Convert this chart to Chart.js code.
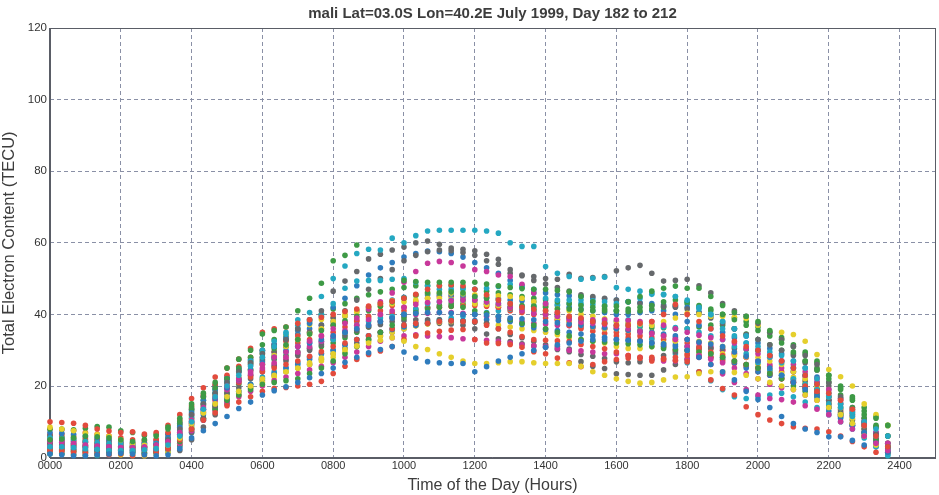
<!DOCTYPE html>
<html>
<head>
<meta charset="utf-8">
<title>TEC mali July 1999</title>
<script src="https://cdn.jsdelivr.net/npm/chart.js@4.4.0/dist/chart.umd.min.js"></script>
<style>
  html, body { margin: 0; padding: 0; background: #fff; }
  #wrap { width: 939px; height: 495px; }
</style>
</head>
<body>
<div id="wrap"><canvas id="tec"></canvas></div>
<script>
// TEC samples every 20 minutes from 0000 to 2340, one array per day
const stepMinutes = 20;
const xTickHours = [0, 2, 4, 6, 8, 10, 12, 14, 16, 18, 20, 22, 24];
const yTickValues = [0, 20, 40, 60, 80, 100, 120];
const titleText = 'mali Lat=03.0S Lon=40.2E July 1999, Day 182 to 212';

const blueA = [1, 0.8, 0.5, 0.5, 0.8, 1, 1.2, 1, 0.8, 0.5, 0.8, 2.5, 5.5, 7.5, 9.5, 11.5, 13.7, 15.5,
  17.5, 18.7, 19.8, 21, 22.3, 23.5, 25, 26.6, 28, 29.3, 30.2, 31, 29.5, 27.8, 26.8, 26.5, 26.3, 26.3,
  24, 25.4, 27, 28, 29, 30, 30.8, 31.5, 32, 32.5, 33, 33, 33, 32.8, 32.5, 32, 31.5, 31,
  30, 28, 26, 24, 21.7, 18.5, 16.2, 14, 11.5, 9.5, 8, 7, 5.8, 5.8, 4.8, 3.5, null, null];
const greenA = [5, 5.2, 5.5, 6, 5.8, 5.5, 5, 4.5, 5, 6, 8.5, 11, 15, 18, 21, 25, 27.5, 30,
  34.5, 35.5, 36.5, 41, 44.5, 48.7, 55, 56.5, 59.4, null, null, null, 49.5, 49.2, 49, 49, 49, 49,
  49, 48.5, 48, 47.5, 47.2, 47, 47, 46.7, 46.3, 45, 43.5, 42.3, 42.3, 43.5, 45, 46.5, 47.3, 47.9,
  47.3, 47.3, 45, 42.5, 40.5, 39.5, 38, 35.5, 32, 29.5, 27, 24.5, 22, 19, 16.5, 13, 11, 9];
const redA = [10, 9.8, 9.6, 9, 8, 7.4, 7, 7.2, 6.6, 7, 9, 12, 16.5, 19.5, 22.5, 25, 27.5, 30.5,
  35, 36, 36.5, 37.5, 38.5, 39.2, 40, 40.8, 41.5, 42.3, 43, 43.7, 44.5, 45.6, 47, 48, 48.3, 48,
  47, 45.5, 44, 43, 42, 41.5, 41, 40.5, 39.5, 39, 38, 37.5, 37, 37, 37.5, 38, 40, 42.8,
  40, 38, 36, 34, 32.5, 31, 30, 28.5, 27, 25, 23, 20.5, 18, 16, 13.5, 9, 6, 3];
const cyanA = [3, 3, 2.8, 2.5, 2.3, 2, 2, 2, 2.2, 2.5, 3.5, 6, 10, 13.5, 17, 20, 23, 25.5,
  28, 31, 34.5, 38.5, 40.5, 45, 50, 53.5, 57, 58.2, 58, 61.3, 60, 62, 63.3, 63.5, 63.5, 63.5,
  63.5, 63.3, 62.7, 60, 59, 59, 53.4, 51.5, 50.6, 49.8, 50.1, 50.4, 47.5, 47, 46.5, 46, 45.5, 45,
  44, 42, 40, 38, 36, 34, 31, 29.5, 28.5, 27, 25, 22, 17, 15, 12.5, 10, 8, 6];
const magentaA = [4.5, 4.3, 4, 3.5, 3.2, 3, 2.8, 2.8, 3, 3.5, 4.5, 7, 10.5, 14, 17, 20, 22, 24,
  26, 28, 29.5, 31, 32.5, 34, 36, 37.5, 39, 41.5, 43.5, 46, 49, 52, 54.3, 54.8, 54.5, 53.5,
  52.5, 52, 51, 50.6, 48.4, 46, 43, 40.5, 38.5, 37.8, 37.5, 37.2, 36.6, 36, 35.3, 34.7, 34, 33,
  31, 28.5, 26, 23.4, 21, 19, 17.5, 16.5, 16.2, 15.5, 14.5, 13.5, 12, 10, 8, 6, 4, 2];
const yellowA = [8.5, 8, 7.5, 6.8, 6.5, 6, 5, 4, 3.5, 3, 3.5, 5.5, 9.5, 12.5, 15, 17, 18.5, 20,
  22, 23, 24, 25, 26.5, 27.8, 29, 30.2, 31.2, 32, 32.8, 33.5, 32.5, 31, 30.2, 29, 28, 27,
  26.3, 26.3, 26.5, 26.8, 26.8, 26.5, 26.3, 26.3, 26.3, 25.5, 24, 23, 22, 21.3, 20.8, 21, 21.7, 22.5,
  22.6, 23.5, 24, 24, 23.8, 23, 22, 21, 20, 19, 17.5, 16, 14, 12, 9.5, 6, 3.5, null];
const grayA = [4, 3.8, 3.5, 3.2, 3, 2.8, 2.5, 2.5, 3, 3.5, 5, 8, 12, 15, 18, 21, 24, 26.5,
  29, 31, 33, 36, 38.5, 41, 46.5, 49.3, 52, 55.5, 56.8, 58, 58.8, 60, 60.5, 59.6, 58.5, 58.2,
  57.8, 56.8, 55.4, 51.5, 50.8, 50.6, 50, 49.8, 51.2, 50.1, 50.3, 50.6, 52.2, 53, 53.7, 51.5, 49.3, 49.5,
  49.8, 48, 46, 43, 41, 39.5, 37.5, 35, 33, 31, 28.5, 26, 21, 17, 13.5, 10, 6.5, 3];

const blueB = [4.5, 4.3, 4, 3.5, 3.2, 3, 2.8, 2.8, 2.8, 3, 4, 6.5, 10, 13.5, 16.5, 19.5, 22, 24.5,
  26.5, 28, 29.5, 31, 32, 33, 34, 35, 36, 37, 38, 39, 40, 40.3, 40.5, 40.5, 40.3, 40,
  40, 39.8, 39.5, 39, 38.8, 38.5, 38, 37.7, 37.3, 37, 36.6, 36.3, 36, 35.6, 35.3, 35, 34.5, 34,
  33, 32.3, 31.7, 31, 29.5, 28.3, 27, 25, 23, 21, 19, 17, 13, 11, 9, 7, 4, 1.5];
const greenB = [8, 8, 7.8, 8.2, 8.7, 8.5, 7.5, 7, 6.2, 6.5, 8, 10, 14, 17, 19.5, 22, 24.5, 26.5,
  29, 30.5, 31.5, 33, 34.5, 35.5, 37, 38.2, 39.5, 41, 42.3, 43.5, 44.5, 45.5, 46, 46, 46.3, 46,
  45, 44.5, 44, 43, 42.5, 42.3, 42, 41.5, 41.5, 41.2, 41, 41, 41, 41.5, 42, 42.5, 43.5, 44,
  43.5, 42.5, 41.5, 40, 38.5, 37, 35.5, 34, 33, 31, 29, 26.5, 23, 19.5, 16, 12, 9, 6];
const redB = [2, 1.8, 1.5, 1.2, 1, 0.8, 1, 0.6, 0.8, 1.5, 2.5, 5, 8, 10.5, 12.5, 14.5, 15.5, 17,
  18.5, 19.3, 19.6, 20, 20.5, 21.3, 23.5, 25.5, 27.4, 28.8, 29.8, 31, 33, 34, 34.8, 35.3, 35.6, 35.8,
  33, 32, 31.9, 31.6, 30.8, 29.6, 29, 27.8, 26.5, 25.4, 26, 26.8, 27.4, 27.8, 28, 28, 27.7, 27.2,
  26.8, 24, 21.7, 19.3, 17.5, 14.2, 12, 10.5, 9.5, 8.6, 8.2, 8, 7.2, 6, 4.5, 3, 1.5, null];
const cyanB = [5.5, 5.3, 5, 4.5, 4.2, 4, 3.8, 3.6, 3.5, 3.8, 5, 7.5, 11.5, 15, 18, 21, 24, 27,
  30, 32.5, 35, 37, 38.5, 40, 43, 47.3, 49.3, 49.5, 49.5, 49.8, 50, 49, 48, 47, 47, 47,
  47, 47.3, 47.8, 48.4, 47.5, 46, 44.5, 44, 44, 44, 43.8, 43.5, 43, 43.5, 44.5, 45.6, 45.6, 45,
  43.5, 41.5, 40, 36, 34, 32, 30, 28, 26.5, 25, 23, 20.5, 17, 14, 11.5, 9, 6, 3];
const magentaB = [3.5, 3.3, 3, 2.8, 3, 3, 3, 2.8, 2.5, 2.5, 3.5, 6, 9.5, 13, 16, 19, 21.5, 23.5,
  25, 26.5, 28, 29.5, 31, 32.5, 34, 35.5, 37, 38.5, 40, 41, 42, 42.8, 43.3, 43.5, 43.8, 44,
  44, 43.5, 43, 42, 41, 40.3, 40, 39.5, 39, 38.8, 38.5, 38.5, 38.5, 38.3, 38, 38, 37, 36,
  35, 34.2, 33.5, 33, 32, 30.5, 29, 28, 27, 26, 24, 22, 19, 16, 13, 10, 7, 4];
const yellowB = [4, 3.8, 3.5, 3.3, 3, 3, 3, 3, 3, 3.2, 4.5, 7, 11, 14.5, 17.5, 20.5, 22.5, 24.5,
  26, 28.5, 31, 33, 34.5, 36, 38, 39.5, 41, 42, 43, 43.8, 44.5, 45.3, 46, 46, 46, 45.8,
  45.5, 45.3, 45.2, 45, 44.5, 43.5, 42.3, 41.5, 41, 40, 39.5, 38.8, 38, 37.6, 37.3, 37, 38, 39,
  40.3, 40, 39.5, 39.5, 39.2, 38.9, 37, null, 35, 34.4, 32.5, 28.8, 24.6, 22.6, 20, 15, 12, 9];
const grayB = [2, 2, 1.8, 1.5, 1.5, 1.8, 2, 2.2, 2.5, 3, 3.5, 5, 8, 11, 14.5, 18, 21.5, 24.5,
  27.5, 29.5, 31, 33, 35, 37, 39, 41, 44, 47, 50, 52.5, 55, 56.5, 57.5, 58, 57.8, 57.3,
  56.5, 55, 54, 52.5, 51, 49.5, 48.5, 47.5, 46.5, 45.5, 45, 44.5, 44, 43.5, 43, 42.5, 42.3, 42,
  41.5, 40.5, 39, 37.5, 36, 34.4, 33, 31.5, 30, 28.5, 26.5, 24.5, 20, 16.5, 13, 9.5, 6, 2.5];

const blueC = [7, 6.8, 6.5, 6, 5.5, 5, 4.5, 4.2, 4, 4, 5.5, 8.5, 12.5, 16, 19, 22, 24.5, 27,
  29.5, 31.5, 33.5, 35.5, 37.5, 39.5, 42, 44.5, 48, 51, 53, 54.5, 56, 57, 57.7, 57.5, 57, 56,
  54.5, 53, 51.5, 49.5, 48, 47, 46, 45.5, 45.2, 45, 44.6, 44.3, 44, 43.6, 43.3, 43, 42.6, 42.3,
  42, 40.5, 39.5, 38, 36, 34, 32, 30.5, 29, 27, 25, 22.5, 18, 15, 12.5, 10, 7, 4];
const greenC = [1, 1, 0.8, 0.6, 0.8, 1.5, 2, 1.5, 1.2, 1.5, 2.5, 4.5, 8, 11, 13.5, 16, 17.5, 19,
  20.5, 21, 21.5, 22, 23.5, 25, 27, 29, 31, 33, 35, 37, 39, 40.5, 41.5, 42, 42.3, 42,
  41, 40.3, 39.5, 38.5, 37.5, 37, 36, 35, 34, 33, 32.5, 32.3, 32, 31.8, 31.5, 31, 30.5, 30.3,
  30, 29.5, 29, 28, 27, 26, 25, 23.5, 22, 20, 18.5, 17, 14, 12, 9.5, 7, 5, 3];
const redC = [5, 4.8, 4.5, 4.2, 3.8, 3.5, 3.2, 3, 3, 3.5, 5, 8, 12, 15, 17.5, 19.5, 21, 22.5,
  24, 25, 26, 27, 28.3, 29.6, 31, 32, 33, 34, 35, 36, 37, 37.5, 37.5, 38, 38.2, 38,
  38, 37, 36, 35, 33.8, 33, 32.8, 32.6, 32.4, 31.6, 31, 30.4, 29.5, 28.5, 27.7, 27, 27.5, 28,
  28.5, 30.5, 29.5, 28.5, 27, 26, 25, 23.5, 22, 21, 20, 18.5, 17, 15, 12, 9, 6.5, 4];
const cyanC = [3.8, 3.6, 3.4, 3, 2.8, 2.5, 2.3, 2.5, 2.8, 3, 4.5, 7, 11, 14.5, 18, 21, 24, 26,
  27, 28.5, 30, 31, 32, 32.5, 33, 35, 37, 38, 39, 39.5, 40, 41.5, 43, 43.5, 44, 44,
  44, 43.5, 43, 42, 41.5, 41, 40, 39.5, 39, 38.5, 38.2, 38, 38, 37.5, 37, 37, 36.5, 36.3,
  36, 35, 34, 33, 31, 29, 26.5, 24.5, 23, 22, 20.5, 19, 15, 12, 9, 6, 3, 0.5];
const magentaC = [4, 3.8, 3.6, 3.3, 3, 2.6, 2.3, 2, 2, 2, 2.5, 4, 7.5, 10.5, 13, 15.5, 17, 18.5,
  20, 21.5, 22.5, 23.5, 24.5, 25.5, 26.5, 28, 29.5, 31, 32.5, 33.5, 34, 34.3, 34, 33.8, 33.5, 33.2,
  33, 32.8, 32.5, 32, 31.5, 31.2, 31, 30.5, 30, 29.8, 29.5, 29, 29, 28.5, 28, 27.5, 27, 27,
  27.5, 28, 27.5, 26.5, 25, 23.5, 22, 20.5, 19.5, 19, 17.5, 16, 14, 11.5, 9, 7, 5, 3];
const yellowC = [2, 2, 1.8, 1.5, 1.2, 1, 0.8, 0.6, 0.5, 0.8, 1.5, 4, 8.5, 12.5, 16, 19.5, 22, 24.5,
  27, 31, 34, 35.5, 37.1, 38.6, 39.2, 40, 40.6, 41.4, 42.3, 43, 43.5, 44, 44.5, 44.5, 44.2, 43.8,
  43, 42.8, 42.5, 42, 41.5, 41, 40, 39, 38, 37, 36.5, 36, 36, 35.5, 35.3, 35, 34, 32.5,
  30, 29.5, 29.2, 29, 28.5, 28.2, 28, 27, 26, 24, 22, 20, 17, 14, 11, 9, 6.5, 4];
const grayC = [6, 5.5, 5, 4.5, 4, 3.5, 3.2, 3, 2.8, 2.5, 2.5, 3.5, 7, 10.5, 14, 17, 19.5, 22,
  24, 25.5, 27, 28.5, 30, 31.5, 33, 34.2, 35.5, 36.5, 37.2, 38, 38.3, 38.5, 38.5, 38.5, 38.3, 38,
  37.8, 37.5, 36, 34.4, 33.5, 32.4, 31.5, 31, 30.3, 28.8, 28.3, 27.7, 26.8, 26.5, 26.8, 27.5, 28.5, 29.5,
  30, 30.5, 30.5, 30.5, 30.5, 30.2, 30, 28.5, 27, 24, 21.5, 19, 16, 13, 10.5, 8, 5, 1.5];

const blueD = [2.5, 2.5, 2.3, 2, 2, 2, 1.8, 1.8, 2, 2, 3, 5.5, 9, 12, 14.5, 16.5, 18.5, 20.5,
  22, 23.5, 25, 26, 27.5, 29, 30, 31.5, 33, 34, 35, 35.8, 36.5, 37, 37.5, 38, 38.2, 38.3,
  38.3, 38.5, 38.3, 38, 37.2, 36.3, 35.8, 35.5, 35, 34.5, 34, 33.6, 33, 32.7, 32.5, 32, 31.8, 31.5,
  31, 30, 29, 28, 26.5, 25, 24, 23, 22.3, 21.5, 19.5, 17.5, 14, 11.5, 9, 7, 4.5, 2];
const greenD = [3.5, 3.3, 3, 2.8, 2.5, 2.2, 2, 2, 2.3, 3, 5.5, 9, 13, 16, 19, 22, 25, 28,
  31.5, 33, 34, 36, 38, 40, 41.5, 43, 44.5, 45.5, 46.3, 47, 47.5, 48, 48, 48, 48, 47.5,
  47, 46.5, 46, 45.5, 45, 44.5, 44, 43.5, 43, 42.5, 42, 41.5, 41, 40.8, 41, 41.5, 42, 42.5,
  43, 42, 41, 40, 39, 38, 36.5, 35, 33.5, 31.5, 29.5, 27, 21, 17.5, 14, 11, 8.5, 6];
const redD = [6.5, 6.5, 6, 5.5, 5, 4.5, 4.2, 4, 4.2, 5, 7, 10.5, 14.5, 17.5, 20.5, 23, 25.5, 28,
  30, 31.5, 32.5, 34, 35, 36, 37, 37.8, 38.4, 39, 39.8, 40.4, 41, 41.5, 41.8, 42, 42.2, 42.4,
  42.5, 42.3, 42, 41.7, 41.7, 41, 40, 38.5, 37, 36, 35.3, 34.7, 34, 33.5, 32.8, 32, 31, 30,
  29, 28.5, 28, 27, 26.3, 25.5, 24, 23, 22, 21, 19.5, 18, 15, 12.5, 9.5, 6, 3.5, 1.5];
const cyanD = [1.5, 1.2, 1, 0.8, 0.6, 0.8, 1, 1.2, 1.2, 1.2, 1.8, 3, 7, 10.5, 13.5, 16, 18.5, 20.5,
  22.5, 24, 25, 26.5, 28, 29, 30, 31.5, 33, 34, 35, 36, 37, 37.5, 38, 38.5, 39, 39.5,
  40, 40.5, 41, 41.5, 42, 42.3, 42.5, 42.8, 43, 43, 42.8, 42.5, 41, 38.5, 35.5, 33, 31, 29,
  26.5, 24, 21.5, 19, 17, 16.5, 17, 17.5, 18, 17, 15.5, 14, 12, 10, 8, 5.5, 3, 1];
const magentaD = [5, 4.8, 4.5, 4.2, 4, 3.8, 3.5, 3.3, 3.2, 3.5, 4.5, 6.5, 10, 13.5, 16.5, 19, 21, 23,
  24.5, 26, 27.5, 29, 30.5, 32, 33.5, 35, 36, 37, 38, 39, 39.5, 40, 40.3, 40.5, 40.5, 40.3,
  40, 39.5, 39, 38.5, 38, 37.5, 37.3, 37, 36.8, 36.5, 36.3, 36, 36, 35.5, 35, 34.5, 34, 33.5,
  33, 32, 31, 30, 29, 28, 27, 26, 25, 24, 22.5, 21, 19, 16.5, 14, 11, 8.5, 6];
const yellowD = [6, 5.8, 5.5, 5, 4.5, 4, 3.5, 3, 2.5, 2.2, 2.5, 3.5, 7.5, 11, 14, 16, 18, 19.5,
  21, 22.5, 24, 25, 26, 27, 28, 29.5, 31, 32.5, 34, 35, 36, 36.8, 37.3, 37.8, 38, 38.2,
  38, 37.5, 37, 36.5, 36, 35.5, 35, 34.3, 33.5, 33, 32.5, 32, 31, 30.5, 30.5, 31, 32, 32.5,
  33, 32.5, 32, 31, 29.5, 28, 26, 24.5, 23.5, 22.5, 21, 19.5, 15, 12.5, 10.5, 8, 6, 3.5];
const grayD = [3, 2.8, 2.5, 2.2, 2, 1.8, 1.5, 1.5, 1.5, 1.5, 1.5, 2, 5, 8.5, 12, 15, 17.5, 19.5,
  21.5, 23, 24, 25, 26, 27.5, 29, 30.5, 32, 33, 34, 35, 36, 36.8, 37.5, 37.5, 37.3, 37,
  36, 34.5, 33.2, 32.4, 31.8, 31.2, 30.8, 30.2, 29.6, 26.8, 25.5, 24.9, 23.4, 23.2, 23, 23, 24.5, 26,
  27.5, 28, 28, 27.5, 27, 26, 25, 24, 23, 22, 20.5, 19, 15, 12, 9, 6, 3.5, 1];

const blueE = [6, 5.8, 5.5, 5, 4.8, 4.5, 4, 3.8, 3.8, 4.5, 6.5, 9.5, 13.5, 17, 20, 22.5, 25, 27.5,
  30, 31.5, 33, 34.5, 36, 37, 38, 39.5, 41, 42, 43, 44, 44.8, 45.3, 45.5, 45.5, 45.5, 45.3,
  45, 44.8, 44.5, 44, 43.8, 43.5, 43, 42.5, 42, 41.5, 41, 40.5, 40, 40, 40.5, 41, 41, 40,
  38, 37, 36, 35, 33.5, 32, 30, 28.5, 27, 25, 23, 21, 16, 14, 12, 8, 5, 2.5];
const greenE = [2.5, 2.3, 2, 1.8, 2, 2.5, 3, 3.2, 3, 3.2, 4, 6, 9.5, 12.5, 15, 18, 20.5, 23,
  26, 27.5, 28.5, 29.5, 30.5, 31, 32, 33.5, 35, 36.5, 38, 39, 40, 41, 42, 42.5, 43, 43,
  43, 42.8, 42.5, 42, 41.8, 41.5, 41, 40, 39, 38.3, 38, 37.5, 37, 36.8, 36.5, 36.3, 36.3, 36,
  36, 36.5, 37, 37, 36, 34.5, 33, 31.5, 30, 29, 27, 25, 23, 20, 17, 14, 11.5, 9];
const redE = [8, 7.8, 7.5, 7, 6.5, 6, 5.5, 5, 4.8, 5, 6.5, 9.5, 13.5, 17, 20, 22, 24, 26,
  28, 29.5, 31, 32, 33, 34, 35, 36.5, 38, 39.5, 41, 42.5, 42, 43.5, 44.5, 45, 45, 44.8,
  44, 43, 42, 41, 40.5, 40, 39, 38.5, 38, 37, 36.5, 36, 35, 34.5, 34, 33.5, 33, 33,
  32, 31, 30.5, 30, 29, 28, 27, 25.5, 24, 21, 19.5, 18, 16, 13.5, 11.5, 9, 6, 3];

const colors = {
  blue: '#2f7cbd',
  green: '#3e9a46',
  red: '#e24b3d',
  cyan: '#25a8c2',
  magenta: '#c8389b',
  yellow: '#e5cf2c',
  gray: '#66696c'
};

// 31 days, plotted in the order the colours cycle
const days = [
  [blueA, colors.blue], [greenA, colors.green], [redA, colors.red], [cyanA, colors.cyan],
  [magentaA, colors.magenta], [yellowA, colors.yellow], [grayA, colors.gray],
  [blueB, colors.blue], [greenB, colors.green], [redB, colors.red], [cyanB, colors.cyan],
  [magentaB, colors.magenta], [yellowB, colors.yellow], [grayB, colors.gray],
  [blueC, colors.blue], [greenC, colors.green], [redC, colors.red], [cyanC, colors.cyan],
  [magentaC, colors.magenta], [yellowC, colors.yellow], [grayC, colors.gray],
  [blueD, colors.blue], [greenD, colors.green], [redD, colors.red], [cyanD, colors.cyan],
  [magentaD, colors.magenta], [yellowD, colors.yellow], [grayD, colors.gray],
  [blueE, colors.blue], [greenE, colors.green], [redE, colors.red]
];

const fontFamily = '"Liberation Sans", Arial, sans-serif';

const datasets = days.map(([values, color], n) => ({
  label: 'day ' + (182 + n),
  data: values.map((v, i) => ({ x: i * stepMinutes / 60, y: v })),
  backgroundColor: color,
  borderWidth: 0,
  pointRadius: 2.8,
  showLine: false,
  clip: false
}));

// white page, axes box and the title centred over the plot area
const axesBox = {
  id: 'axesBox',
  beforeDraw(chart) {
    const { ctx, width, height } = chart;
    ctx.save();
    ctx.fillStyle = '#fff';
    ctx.fillRect(0, 0, width, height);
    ctx.restore();
  },
  beforeDatasetsDraw(chart) {
    const { ctx, chartArea: a } = chart;
    ctx.save();
    ctx.strokeStyle = '#5a5d66';
    ctx.lineWidth = 1;
    ctx.strokeRect(Math.round(a.left) + 0.5, Math.round(a.top) + 0.5,
      Math.round(a.right - a.left), Math.round(a.bottom - a.top));
    ctx.fillStyle = '#3d3d3d';
    ctx.font = 'bold 15px ' + fontFamily;
    ctx.textAlign = 'center';
    ctx.textBaseline = 'middle';
    ctx.fillText(titleText, (a.left + a.right) / 2, 14);
    ctx.restore();
  }
};

new Chart(document.getElementById('tec'), {
  type: 'scatter',
  data: { datasets },
  options: {
    responsive: true,
    maintainAspectRatio: false,
    animation: false,
    events: [],
    layout: { padding: { top: 28, left: 0, right: 4, bottom: 0 } },
    plugins: {
      legend: { display: false },
      tooltip: { enabled: false }
    },
    scales: {
      x: {
        type: 'linear',
        min: 0,
        max: 25,
        afterBuildTicks: axis => { axis.ticks = xTickHours.map(v => ({ value: v })); },
        ticks: {
          autoSkip: false,
          maxRotation: 0,
          padding: 2,
          color: '#333',
          font: { family: fontFamily, size: 11 },
          callback: v => String(v * 100).padStart(4, '0')
        },
        grid: { color: '#8a90a6', lineWidth: 1, drawTicks: false },
        border: { display: true, color: '#5a5d66', dash: [4, 3] },
        title: {
          display: true,
          text: 'Time of the Day (Hours)',
          color: '#3d3d3d',
          font: { family: fontFamily, size: 16 },
          padding: { top: 1, bottom: 0 }
        }
      },
      y: {
        min: 0,
        max: 120,
        afterBuildTicks: axis => { axis.ticks = yTickValues.map(v => ({ value: v })); },
        ticks: {
          padding: 3,
          color: '#333',
          font: { family: fontFamily, size: 11.5 }
        },
        grid: { color: '#8a90a6', lineWidth: 1, drawTicks: false },
        border: { display: true, color: '#5a5d66', dash: [4, 3] },
        title: {
          display: true,
          text: 'Total Electron Content (TECU)',
          color: '#3d3d3d',
          font: { family: fontFamily, size: 16.5 },
          padding: { top: 0, bottom: 5 }
        }
      }
    }
  },
  plugins: [axesBox]
});
</script>
</body>
</html>
